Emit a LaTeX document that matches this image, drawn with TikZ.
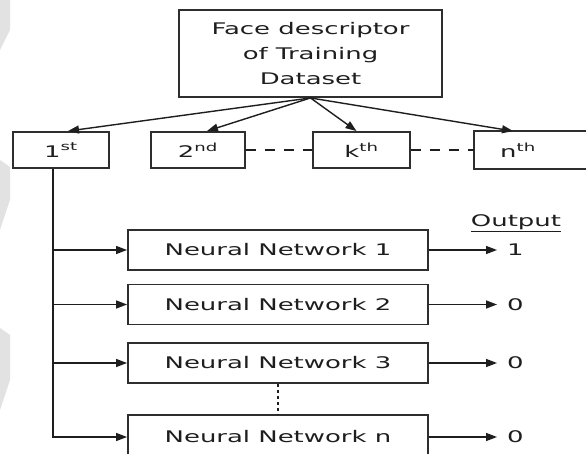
\documentclass[tikz,border=0pt]{standalone}
\usepackage{fontspec}
\setmainfont{DejaVu Sans}[FakeStretch=1.62]
\usetikzlibrary{arrows.meta}
\definecolor{ink}{HTML}{1E1E1E}
\definecolor{boxc}{HTML}{2E2E2E}
\definecolor{wm}{HTML}{E2E2E2}
\tikzset{
  boxline/.style={draw=boxc, line width=1.9pt},
  bx/.style={boxline, inner sep=0pt, font=\fontsize{16}{25}\selectfont, text=ink, align=center},
  arr/.style={draw=ink, line width=1.4pt, -{Triangle[length=11pt,width=8pt]}},
  dsh/.style={draw=ink, line width=1.4pt, dash pattern=on 10pt off 9pt},
  dotln/.style={draw=ink, line width=2.2pt, dash pattern=on 3pt off 3pt},
  lbl/.style={inner sep=0pt, font=\fontsize{16}{18}\selectfont, text=ink},
}
\begin{document}
\begin{tikzpicture}[x=1pt,y=-1pt]
\clip (0,0) rectangle (586,454);
\fill[white] (0,0) rectangle (586,454);
% faint background marks at the left edge
\fill[wm] (0,0) -- (10,0) -- (10,30) -- (0,50) -- cycle;
\fill[wm] (0,160) -- (10,167) -- (10,200) -- (0,230) -- cycle;
\fill[wm] (0,328) -- (10,335) -- (10,380) -- (0,410) -- cycle;

% top box
\node[bx, minimum width=263pt, minimum height=87pt] (top) at (310.5,53.5)
  {Face descriptor\\of Training\\Dataset};

% second row
\node[bx, minimum width=96pt, minimum height=36pt] (first) at (61,150) {1\textsuperscript{st}};
\node[bx, minimum width=94pt, minimum height=36pt] (second) at (198,150) {2\textsuperscript{nd}};
\node[bx, minimum width=97pt, minimum height=36pt] (kth) at (361.5,150) {k\textsuperscript{th}};
\node[bx, draw=none, minimum width=86pt, minimum height=36pt] (nth) at (518,150) {n\textsuperscript{th}};
\draw[boxline] (nth.south west) rectangle ([xshift=60pt]nth.north east);

\draw[arr] (top.south) -- ([xshift=7pt]first.north);
\draw[arr] (top.south) -- ([xshift=9pt]second.north);
\draw[arr] (top.south) -- ([xshift=-5pt]kth.north);
\draw[arr] (top.south) -- ([xshift=-5pt]nth.north);
\draw[dsh] (second.east) -- (kth.west);
\draw[dsh] (kth.east) -- (nth.west);

% neural networks
\node[bx, minimum width=300pt, minimum height=40pt] (nn1) at (278,250) {Neural Network 1};
\node[bx, minimum width=300pt, minimum height=40pt] (nn2) at (278,304.5) {Neural Network 2};
\node[bx, minimum width=300pt, minimum height=40pt] (nn3) at (278,363) {Neural Network 3};
\node[bx, minimum width=300pt, minimum height=44pt] (nnn) at (278,437) {Neural Network n};
\draw[dotln] (nn3.south) -- (nnn.north);

\coordinate (trunk) at ([xshift=-8pt]first.south);
\draw[arr] (trunk) |- (nnn.west);
\draw[arr] (trunk |- nn1.west) -- (nn1.west);
\draw[arr] (trunk |- nn2.west) -- (nn2.west);
\draw[arr] (trunk |- nn3.west) -- (nn3.west);

% outputs
\node[lbl] (outlbl) at (516,223) {\underline{Output}};
\node[lbl, anchor=west] (o1) at (507,250) {1};
\node[lbl, anchor=west] (o2) at (507,304.5) {0};
\node[lbl, anchor=west] (o3) at (507,363) {0};
\node[lbl, anchor=west] (on) at (507,437) {0};
\draw[arr] (nn1.east) -- ([xshift=-10pt]o1.west);
\draw[arr] (nn2.east) -- ([xshift=-10pt]o2.west);
\draw[arr] (nn3.east) -- ([xshift=-10pt]o3.west);
\draw[arr] (nnn.east) -- ([xshift=-10pt]on.west);
\end{tikzpicture}
\end{document}
